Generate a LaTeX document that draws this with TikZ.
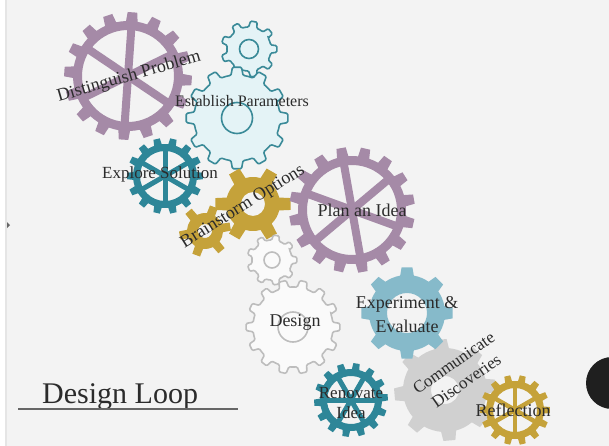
\documentclass[tikz,border=0pt]{standalone}
\usepackage{fontspec}
\setmainfont{Liberation Serif}

\definecolor{paper}{HTML}{F3F3F3}
\definecolor{mauve}{HTML}{A58AA7}
\definecolor{tealdeep}{HTML}{2E8698}
\definecolor{tealline}{HTML}{3A8A98}
\definecolor{icefill}{HTML}{E4F3F6}
\definecolor{gold}{HTML}{C5A23A}
\definecolor{greyline}{HTML}{BDBDBD}
\definecolor{greyfill}{HTML}{FAFAFA}
\definecolor{skyblue}{HTML}{86BACA}
\definecolor{silver}{HTML}{D0D0D0}
\definecolor{ink}{HTML}{2B2B2B}

% Toothed outline: teeth, root radius, tip radius,
% half tooth width at root and at tip (fractions of the pitch)
\newcommand\gearpath[5]{%
  ({(1-#4)*360/#1}:#2)
  \foreach \k in {1,...,#1}{
    -- ({(\k-#5)*360/#1}:#3) -- ({(\k+#5)*360/#1}:#3) -- ({(\k+#4)*360/#1}:#2)
    arc[start angle={(\k+#4)*360/#1}, end angle={(\k+1-#4)*360/#1}, radius=#2]
  } -- cycle}

% Spoked wheel: centre, teeth, root, tip, rim, spoke width, turn, colour
\newcommand\wheelgear[8]{%
  \begin{scope}[shift={#1}, rotate=#7]
    \fill[#8, even odd rule] \gearpath{#2}{#3}{#4}{0.27}{0.19} (0,0) circle[radius=#5];
    \foreach \a in {30,90,150}
      \draw[#8, line width=#6, line cap=butt] ({\a}:{#5+1}) -- ({\a+180}:{#5+1});
  \end{scope}}

% Outlined gear: centre, teeth, root, tip, hole, stroke, fill
\newcommand\linegear[7]{%
  \begin{scope}[shift={#1}]
    \filldraw[draw=#6, fill=#7, line width=1.6pt, rounded corners=1.2pt]
      \gearpath{#2}{#3}{#4}{0.27}{0.17};
    \draw[#6, line width=1.6pt] (0,0) circle[radius=#5];
  \end{scope}}

% Solid gear with a hole: centre, teeth, root, tip, hole, colour, turn
\newcommand\solidgear[7]{%
  \begin{scope}[shift={#1}, rotate=#7]
    \fill[#6, even odd rule] \gearpath{#2}{#3}{#4}{0.23}{0.15} (0,0) circle[radius=#5];
  \end{scope}}

\begin{document}
\begin{tikzpicture}[x=1pt, y=1pt,
    gearlabel/.style={font=\fontsize{18}{21}\selectfont, text=ink, align=center, inner sep=0pt},
    titlelabel/.style={font=\fontsize{30}{34}\selectfont, text=ink, inner sep=0pt}]
  \useasboundingbox (0,0) rectangle (609,-446);
  \clip (0,0) rectangle (609,-446);
  \fill[paper] (0,0) rectangle (609,-446);
  % left margin band
  \fill[white] (0,0) rectangle (5,-446);
  \fill[black!10] (5,0) rectangle (7,-446);
  \fill[black!60] (7,-222) -- (10,-225) -- (7,-228) -- cycle;

  % upper chain
  \wheelgear{(128,-76)}{16}{55}{64}{46}{8pt}{-4}{mauve}
  \linegear{(249,-49)}{9}{22}{28}{9.5}{tealline}{icefill}
  \linegear{(237,-118)}{12}{43}{51}{15.5}{tealline}{icefill}
  \wheelgear{(165,-176)}{14}{32}{38}{25}{5pt}{0}{tealdeep}
  \solidgear{(205,-231)}{6}{18}{26}{7}{gold}{10}
  \solidgear{(253,-204)}{6}{27}{38}{12}{gold}{0}
  \wheelgear{(352,-210)}{16}{54}{63}{45}{8pt}{10}{mauve}

  % lower chain
  \linegear{(272,-260)}{9}{20}{25}{8}{greyline}{greyfill}
  \linegear{(293,-327)}{14}{40}{47}{15}{greyline}{greyfill}
  \solidgear{(445,-390)}{8}{42}{51}{14}{silver}{5}
  \solidgear{(407,-313)}{8}{38}{46}{20}{skyblue}{0}
  \wheelgear{(351,-400)}{14}{31}{37}{24}{5pt}{30}{tealdeep}
  \wheelgear{(515,-410)}{14}{29}{35}{22}{4.5pt}{0}{gold}

  % dark disc at the right edge
  \fill[black!88] (612,-383) circle[radius=26];

  % labels
  \node[gearlabel, rotate=16] (distinguish) at (129,-77) {Distinguish Problem};
  \node[gearlabel, font=\fontsize{16}{19}\selectfont] (establish) at (242,-101) {Establish Parameters};
  \node[gearlabel, font=\fontsize{17}{20}\selectfont] (explore) at (160,-174) {Explore Solution};
  \node[gearlabel, rotate=32] (brainstorm) at (243,-207) {Brainstorm Options};
  \node[gearlabel] (plan) at (362,-210) {Plan an Idea};
  \node[gearlabel] (design) at (295,-322) {Design};
  \node[gearlabel, font=\fontsize{18}{24}\selectfont] (experiment) at (407,-315) {Experiment \&\\Evaluate};
  \node[gearlabel, font=\fontsize{17}{20}\selectfont] (renovate) at (351,-403) {Renovate\\Idea};
  \node[gearlabel, rotate=35, font=\fontsize{17}{22}\selectfont] (communicate) at (460,-372) {Communicate\\Discoveries};
  \node[gearlabel] (reflection) at (513,-410) {Reflection};

  % title with its rule
  \node[titlelabel, anchor=base west] (title) at (42,-403) {Design Loop};
  \coordinate (rule-a) at (18,-409);
  \coordinate (rule-b) at (238,-409);
  \draw[black!60, line width=1.3pt] (rule-a) -- (rule-b);
\end{tikzpicture}
\end{document}
